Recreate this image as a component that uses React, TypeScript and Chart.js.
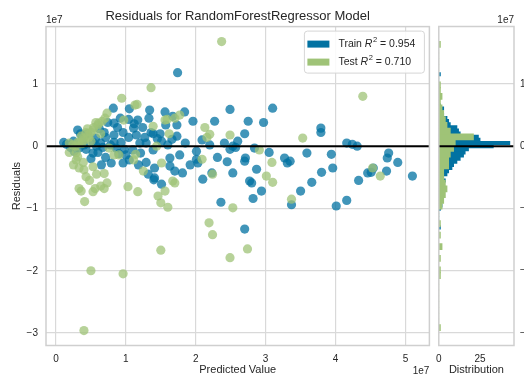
import React, { useEffect, useRef } from 'react';
import { Chart, registerables } from 'chart.js';
Chart.register(...registerables);

// Values in units of 1e7
const trainPredicted = [
  1.74, 2.49, 3.10, 0.82, 1.05, 1.34, 1.56, 1.84, 1.96, 2.27,
  2.75, 1.67, 3.79, 3.79, 4.16, 4.24, 4.31, 3.59, 3.94, 3.96,
  3.80, 3.66, 3.50, 3.37, 4.01, 4.16, 4.33, 4.46, 4.51, 4.54,
  4.73, 4.74, 4.76, 4.89, 5.10, 3.27, 3.31, 3.35, 2.97, 1.73,
  1.57, 2.70, 2.09, 2.41, 2.53, 2.57, 2.49, 2.84, 1.73, 1.66,
  1.49, 1.39, 1.51, 1.77, 1.63, 2.01, 2.01, 2.03, 2.31, 1.81,
  2.10, 2.23, 2.53, 2.71, 2.70, 2.87, 2.77, 1.41, 1.41, 1.63,
  1.51, 1.40, 2.36, 2.70, 2.80, 2.82, 2.94,
  0.11, 0.31, 0.74, 0.83, 0.96, 1.11, 1.04, 1.24, 1.36, 0.71,
  0.83, 0.93, 0.64, 0.53, 0.43, 0.33, 0.60, 0.71, 0.86, 1.00,
  1.10, 1.21, 1.29, 1.39, 0.79, 0.96, 1.29, 0.53, 0.67, 0.21,
  0.57, 0.69, 0.83, 1.04, 1.17, 1.33, 0.15, 0.25, 0.38, 0.45,
  0.62, 0.88, 0.92, 1.15, 1.20, 1.45, 0.50, 0.65, 0.90, 1.05,
  1.18, 1.32, 0.78, 0.58, 0.40, 1.60, 1.85, 1.92, 1.70, 2.20,
  2.45, 3.05, 2.60, 1.27, 0.98, 1.12, 0.26, 0.35,
];
const trainResiduals = [
  1.18, 0.59, 0.61, 0.61, 0.60, 0.58, 0.55, 0.55, 0.40, 0.40,
  0.40, 0.48, 0.29, 0.22, 0.05, 0.03, 0.00, -0.11, -0.13, -0.35,
  -0.42, -0.58, -0.72, -0.94, -0.96, -0.87, -0.55, -0.43, -0.42, -0.35,
  -0.40, -0.19, -0.11, -0.26, -0.48, -0.19, -0.27, -0.24, 0.38, 0.34,
  0.34, 0.20, 0.10, 0.05, 0.00, -0.02, -0.05, -0.03, 0.16, 0.11,
  0.20, 0.20, 0.08, -0.14, -0.19, -0.08, -0.21, -0.27, -0.18, -0.43,
  -0.53, -0.43, -0.43, -0.19, -0.24, -0.37, -0.56, -0.35, -0.51, -0.32,
  -0.61, -0.54, -0.90, -1.33, -0.59, -0.84, -0.72,
  0.06, 0.26, 0.38, 0.37, 0.22, 0.29, 0.14, 0.30, 0.22, 0.14,
  0.06, 0.06, 0.05, 0.06, -0.05, -0.03, -0.10, -0.18, -0.03, -0.14,
  -0.06, -0.11, 0.05, -0.06, -0.27, -0.27, -0.26, -0.11, -0.02, -0.02,
  0.13, 0.22, 0.18, 0.43, 0.42, 0.45, 0.03, 0.08, 0.12, 0.20,
  0.28, 0.30, 0.45, 0.18, 0.05, 0.12, -0.20, -0.30, -0.12, -0.22,
  -0.30, -0.45, 0.02, 0.00, 0.02, 0.02, 0.05, -0.30, -0.40, 0.02,
  -0.25, -0.10, 0.08, 0.14, -0.05, 0.36, -0.08, 0.20,
];
const testPredicted = [
  2.37, 1.36, 0.94, 1.16, 1.13, 0.73, 1.59, 1.77, 4.39, 3.53,
  4.53, 4.64, 3.37, 1.70, 2.13, 2.20, 2.16, 2.49, 1.39, 1.56,
  2.09, 2.91, 3.09, 3.01, 3.10, 2.24, 1.51, 1.67, 1.70, 1.44,
  0.36, 0.41, 0.53, 0.56, 0.64, 0.73, 1.03, 1.17, 1.46, 1.50,
  1.60, 1.56, 1.50, 2.19, 2.24, 2.53, 2.49, 2.74, 0.50, 0.96,
  0.40, 0.24, 0.31, 0.39, 0.46, 0.53, 0.60, 0.57, 0.33, 0.40,
  0.47, 0.50, 0.54, 0.43, 0.36, 0.61, 0.19, 0.97, 0.31, 0.29,
  0.39, 0.33, 0.40, 0.53, 0.43, 0.69, 0.83, 0.90, 1.14, 1.11,
  0.69, 0.33, 0.19, 0.29, 0.76, 0.45, 0.66, 0.70, 0.28, 0.37,
  0.50, 0.64, 0.25, 0.48, 0.58, 1.25, 1.62,
];
const testResiduals = [
  1.68, 0.94, 0.77, 0.67, 0.66, 0.53, 0.43, 0.50, 0.80, 0.13,
  -0.35, -0.48, -0.85, 0.45, 0.30, 0.19, 0.14, 0.18, 0.32, 0.42,
  -0.21, -0.06, -0.26, -0.48, -0.58, -0.45, -0.27, -0.56, -0.59, 0.00,
  -0.72, -0.89, -0.73, -0.68, -0.64, -0.59, -0.65, -0.73, -0.80, -0.91,
  -0.98, -0.72, -1.67, -1.23, -1.42, -0.99, -1.79, -1.65, -2.00, -2.05,
  -2.96, 0.02, 0.06, 0.13, 0.18, 0.26, 0.34, 0.38, 0.05, 0.10,
  0.14, 0.22, 0.30, 0.22, 0.16, 0.37, 0.05, 0.42, -0.17, -0.22,
  -0.26, -0.35, -0.38, -0.33, -0.49, -0.44, -0.14, -0.14, -0.13, -0.22,
  -0.68, -0.68, -0.10, -0.10, -0.03, 0.28, 0.40, 0.45, 0.00, 0.04,
  0.08, 0.20, -0.30, -0.55, -0.45, -0.40, 0.20,
];

// Histogram counts (50 bins each, spanning the residual range of each set)
const trainHistRange = [-1.33, 1.18];
const trainHistCounts = [
  1, 0, 0, 0, 0, 0, 1, 2, 1, 1,
  1, 2, 2, 2, 3, 4, 3, 5, 6, 8,
  9, 11, 13, 15, 16, 18, 33, 43, 25, 24,
  13, 12, 11, 7, 6, 5, 3, 2, 3, 1,
  0, 0, 0, 0, 0, 0, 0, 0, 0, 1,
];
const testHistRange = [-2.96, 1.68];
const testHistCounts = [
  1, 0, 0, 0, 0, 0, 0, 0, 0, 1,
  1, 0, 1, 0, 2, 0, 1, 0, 1, 0,
  0, 2, 3, 4, 5, 4, 3, 3, 6, 6,
  7, 9, 10, 21, 7, 5, 4, 3, 2, 1,
  2, 1, 1, 0, 0, 0, 0, 0, 0, 1,
];

const xTicks = [0, 1, 2, 3, 4, 5];
const yTicks = [-3, -2, -1, 0, 1];
const histTicks = [0, 25];
const legendNames = ['Train', 'Test'];
const legendScores = ['0.954', '0.710'];
const chartTitle = 'Residuals for RandomForestRegressor Model';
const xLabel = 'Predicted Value';
const yLabel = 'Residuals';
const histLabel = 'Distribution';
const offsetLabel = '1e7';

const TRAIN = '#0272a2';
const TEST = '#9fc377';
const TRAIN_PT = 'rgba(2,114,162,0.75)';
const TEST_PT = 'rgba(159,195,119,0.75)';
const FONT = "'Liberation Sans', Arial, sans-serif";
const TEXT = '#262626';
const GRID = '#d9d9d9';
const FRAME = '#cfcfcf';

const fmt = (v: number) => (v < 0 ? '\u2212' + Math.abs(v) : String(v));
const binCenters = (range: number[], n: number) => {
  const w = (range[1] - range[0]) / n;
  return Array.from({ length: n }, (_, i) => range[0] + w * (i + 0.5));
};

const Y_MIN = -3.2;
const Y_MAX = 1.92;
const PLOT_TOP = 26.5;
const AXIS_H = 31.5;
const CANVAS_H = 377;
// pixels per data unit on the shared residual axis
const pxPerUnit = (CANVAS_H - AXIS_H - PLOT_TOP) / (Y_MAX - Y_MIN);

const mainDecor = {
  id: 'mainDecor',
  afterDatasetsDraw(chart: any) {
    const { ctx, chartArea: a } = chart;
    const y0 = chart.scales.y.getPixelForValue(0);
    ctx.save();
    ctx.strokeStyle = '#000';
    ctx.lineWidth = 2;
    ctx.beginPath();
    ctx.moveTo(a.left, y0);
    ctx.lineTo(a.right, y0);
    ctx.stroke();
    ctx.strokeStyle = FRAME;
    ctx.lineWidth = 1.5;
    ctx.strokeRect(a.left, a.top, a.right - a.left, a.bottom - a.top);
    ctx.fillStyle = TEXT;
    ctx.font = `10px ${FONT}`;
    ctx.textBaseline = 'middle';
    ctx.textAlign = 'left';
    ctx.fillText(offsetLabel, a.left, a.top - 6.5);
    ctx.textAlign = 'right';
    ctx.fillText(offsetLabel, a.right, chart.height - 6);
    ctx.restore();
  },
  afterDraw(chart: any) {
    const { ctx, chartArea: a } = chart;
    const w = 120;
    const h = 42;
    const x = a.right - 5 - w;
    const y = a.top + 4.5;
    ctx.save();
    ctx.beginPath();
    if (ctx.roundRect) ctx.roundRect(x, y, w, h, 3);
    else ctx.rect(x, y, w, h);
    ctx.fillStyle = 'rgba(255,255,255,0.85)';
    ctx.fill();
    ctx.strokeStyle = '#d6d6d6';
    ctx.lineWidth = 1;
    ctx.stroke();
    const colors = [TRAIN, TEST];
    legendNames.forEach((name, i) => {
      const cy = y + 13 + i * 18;
      ctx.fillStyle = colors[i];
      ctx.fillRect(x + 3, cy - 3.5, 22, 7);
      ctx.fillStyle = TEXT;
      ctx.textBaseline = 'middle';
      ctx.textAlign = 'left';
      let tx = x + 34;
      ctx.font = `10.5px ${FONT}`;
      const s1 = name + ' ';
      ctx.fillText(s1, tx, cy);
      tx += ctx.measureText(s1).width;
      ctx.font = `italic 10.5px ${FONT}`;
      ctx.fillText('R', tx, cy);
      tx += ctx.measureText('R').width + 0.5;
      ctx.font = `7.5px ${FONT}`;
      ctx.fillText('2', tx, cy - 4);
      tx += ctx.measureText('2').width;
      ctx.font = `10.5px ${FONT}`;
      ctx.fillText(' = ' + legendScores[i], tx, cy);
    });
    ctx.restore();
  },
};

const histDecor = {
  id: 'histDecor',
  afterDatasetsDraw(chart: any) {
    const { ctx, chartArea: a } = chart;
    const y0 = chart.scales.y.getPixelForValue(0);
    ctx.save();
    ctx.strokeStyle = '#000';
    ctx.lineWidth = 2;
    ctx.beginPath();
    ctx.moveTo(a.left, y0);
    ctx.lineTo(a.right, y0);
    ctx.stroke();
    ctx.strokeStyle = FRAME;
    ctx.lineWidth = 1.5;
    ctx.strokeRect(a.left, a.top, a.right - a.left, a.bottom - a.top);
    ctx.fillStyle = TEXT;
    ctx.font = `10px ${FONT}`;
    ctx.textBaseline = 'middle';
    ctx.textAlign = 'right';
    ctx.fillText(offsetLabel, a.right, a.top - 6.5);
    ctx.restore();
  },
};

const tickFont = { size: 10, family: FONT };
const labelFont = { size: 11, family: FONT };

export default function App() {
  const mainRef = useRef<HTMLCanvasElement>(null);
  const histRef = useRef<HTMLCanvasElement>(null);

  useEffect(() => {
    const main = new Chart(mainRef.current as HTMLCanvasElement, {
      type: 'scatter',
      data: {
        datasets: [
          {
            label: 'Train',
            data: trainPredicted.map((x, i) => ({ x, y: trainResiduals[i] })),
            backgroundColor: TRAIN_PT,
            borderWidth: 0,
            pointRadius: 4.6,
            pointBorderWidth: 0,
            order: 2,
          },
          {
            label: 'Test',
            data: testPredicted.map((x, i) => ({ x, y: testResiduals[i] })),
            backgroundColor: TEST_PT,
            borderWidth: 0,
            pointRadius: 4.6,
            pointBorderWidth: 0,
            order: 1,
          },
        ],
      },
      options: {
        responsive: false,
        animation: false,
        devicePixelRatio: 1,
        events: [],
        layout: { padding: { left: 0, right: 4, top: 0, bottom: 0 } },
        plugins: {
          legend: { display: false },
          tooltip: { enabled: false },
          title: {
            display: true,
            fullSize: false,
            text: chartTitle,
            color: TEXT,
            font: { size: 13, family: FONT, weight: 'normal' },
            padding: { top: 9, bottom: 2 },
          },
        },
        scales: {
          x: {
            type: 'linear',
            min: -0.143,
            max: 5.343,
            afterBuildTicks: (s: any) => {
              s.ticks = xTicks.map((v) => ({ value: v }));
            },
            afterFit: (s: any) => {
              s.height = AXIS_H;
            },
            grid: { color: GRID, lineWidth: 1.2, drawTicks: false },
            border: { display: false },
            ticks: { padding: 8, color: TEXT, font: tickFont, callback: (v: any) => fmt(Number(v)) },
            title: { display: true, text: xLabel, color: TEXT, font: labelFont, padding: { top: 0, bottom: 0 } },
          },
          y: {
            type: 'linear',
            min: Y_MIN,
            max: Y_MAX,
            afterBuildTicks: (s: any) => {
              s.ticks = yTicks.map((v) => ({ value: v }));
            },
            afterFit: (s: any) => {
              s.width = 46;
            },
            grid: { color: GRID, lineWidth: 1.2, drawTicks: false },
            border: { display: false },
            ticks: { padding: 8, color: TEXT, font: tickFont, callback: (v: any) => fmt(Number(v)) },
            title: { display: true, text: yLabel, color: TEXT, font: labelFont, padding: { top: 10, bottom: 0 } },
          },
        },
      },
      plugins: [mainDecor],
    } as any);

    const trainCenters = binCenters(trainHistRange, trainHistCounts.length);
    const testCenters = binCenters(testHistRange, testHistCounts.length);
    const trainBinPx = ((trainHistRange[1] - trainHistRange[0]) / trainHistCounts.length) * pxPerUnit;
    const testBinPx = ((testHistRange[1] - testHistRange[0]) / testHistCounts.length) * pxPerUnit;
    const hist = new Chart(histRef.current as HTMLCanvasElement, {
      type: 'bar',
      data: {
        datasets: [
          {
            label: 'Train',
            data: trainCenters.map((y, i) => ({ x: trainHistCounts[i], y })),
            backgroundColor: TRAIN,
            borderWidth: 0,
            barThickness: trainBinPx + 0.3,
            grouped: false,
            yAxisID: 'y',
            order: 2,
          },
          {
            label: 'Test',
            data: testCenters.map((y, i) => ({ x: testHistCounts[i], y })),
            backgroundColor: TEST,
            borderWidth: 0,
            barThickness: testBinPx + 0.3,
            grouped: false,
            yAxisID: 'y',
            order: 1,
          },
        ],
      },
      options: {
        indexAxis: 'y',
        responsive: false,
        animation: false,
        devicePixelRatio: 1,
        events: [],
        layout: { padding: { left: 10, right: 0, top: PLOT_TOP, bottom: 0 } },
        plugins: { legend: { display: false }, tooltip: { enabled: false }, title: { display: false } },
        scales: {
          x: {
            type: 'linear',
            position: 'bottom',
            min: 0,
            max: 45.5,
            offset: false,
            afterBuildTicks: (s: any) => {
              s.ticks = histTicks.map((v) => ({ value: v }));
            },
            afterFit: (s: any) => {
              s.height = AXIS_H;
            },
            grid: { display: false, drawTicks: false },
            border: { display: false },
            ticks: { padding: 8, color: TEXT, font: tickFont },
            title: { display: true, text: histLabel, color: TEXT, font: labelFont, padding: { top: 0, bottom: 0 } },
          },
          y: {
            type: 'linear',
            position: 'right',
            min: Y_MIN,
            max: Y_MAX,
            offset: false,
            afterBuildTicks: (s: any) => {
              s.ticks = yTicks.map((v) => ({ value: v }));
            },
            afterFit: (s: any) => {
              s.width = 10;
            },
            grid: { color: GRID, lineWidth: 1.2, drawTicks: false, offset: false },
            border: { display: false },
            ticks: { padding: 6, color: TEXT, font: tickFont, callback: (v: any) => fmt(Number(v)) },
          },
        },
      },
      plugins: [histDecor],
    } as any);

    return () => {
      main.destroy();
      hist.destroy();
    };
  }, []);

  return (
    <div style={{ position: 'fixed', left: 0, top: 0, width: 524, height: 377, background: '#fff', overflow: 'hidden' }}>
      <canvas ref={mainRef} width={434} height={377} style={{ position: 'absolute', left: 0, top: 0, width: 434, height: 377 }} />
      <canvas ref={histRef} width={96} height={377} style={{ position: 'absolute', left: 428, top: 0, width: 96, height: 377 }} />
    </div>
  );
}
